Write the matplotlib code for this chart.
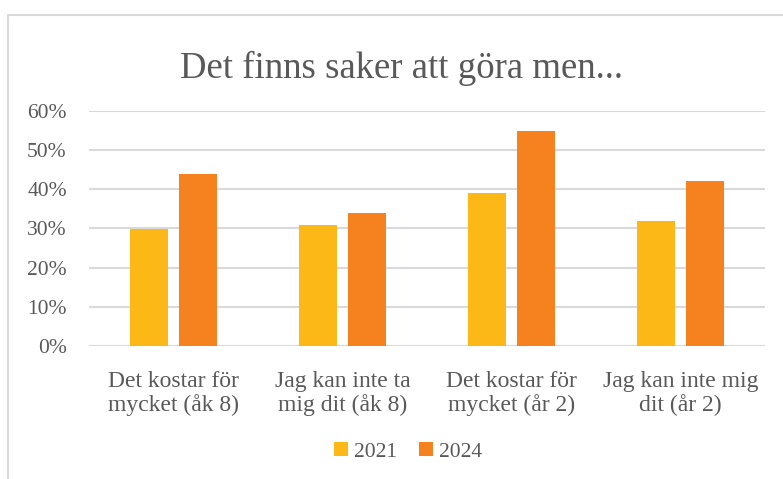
import matplotlib.pyplot as plt
import numpy as np
from matplotlib.patches import Rectangle
from matplotlib.ticker import PercentFormatter

categories = ["Det kostar för\nmycket (åk 8)", "Jag kan inte ta\nmig dit (åk 8)",
              "Det kostar för\nmycket (år 2)", "Jag kan inte mig\ndit (år 2)"]
years = ["2021", "2024"]
v2021 = [0.30, 0.31, 0.39, 0.32]
v2024 = [0.44, 0.34, 0.55, 0.42]

col21 = "#FBB817"
col24 = "#F5821F"
txt = "#595959"
grid = "#D9D9D9"

plt.rcParams['font.family'] = ['Liberation Serif', 'DejaVu Serif']

fig = plt.figure(figsize=(7.83, 4.79), dpi=100)
# chart frame (cropped at right and bottom)
fig.patches.append(Rectangle((8/783, -0.1), 1.0, 1 - 15/479 + 0.1, transform=fig.transFigure,
                             fill=False, edgecolor=grid, lw=1.5))

ax = fig.add_axes([89/783, 1 - 346/479, (765-89)/783, (346-111)/479])
x = np.arange(len(categories))
w = 0.225
ax.bar(x - 0.143, v2021, w, color=col21, label=years[0], zorder=3)
ax.bar(x + 0.143, v2024, w, color=col24, label=years[1], zorder=3)

ax.set_xlim(-0.5, 3.5)
ax.set_ylim(0, 0.6)
ax.set_yticks(np.arange(0, 0.61, 0.1))
ax.yaxis.set_major_formatter(PercentFormatter(1.0, decimals=0))
ax.set_xticks(x)
ax.set_xticklabels(categories, fontsize=17, color=txt, linespacing=1.1)
ax.tick_params(axis='x', length=0, pad=18)
ax.tick_params(axis='y', length=0, pad=16, labelsize=15.5, labelcolor=txt)
ax.grid(axis='y', color=grid, lw=1.5, zorder=0)
for s in ax.spines.values():
    s.set_visible(False)

fig.text(0.513, 1 - 68/479, "Det finns saker att göra men...", ha='center', va='center',
         fontsize=26.5, color=txt)

ax.legend(loc='center', bbox_to_anchor=(0.472, (346-452)/235), bbox_transform=ax.transAxes,
          ncol=2, frameon=False, fontsize=15.5, labelcolor=txt, handlelength=0.65,
          handleheight=0.65, handletextpad=0.3, columnspacing=1.0)

fig.savefig("out.png", dpi=100)
